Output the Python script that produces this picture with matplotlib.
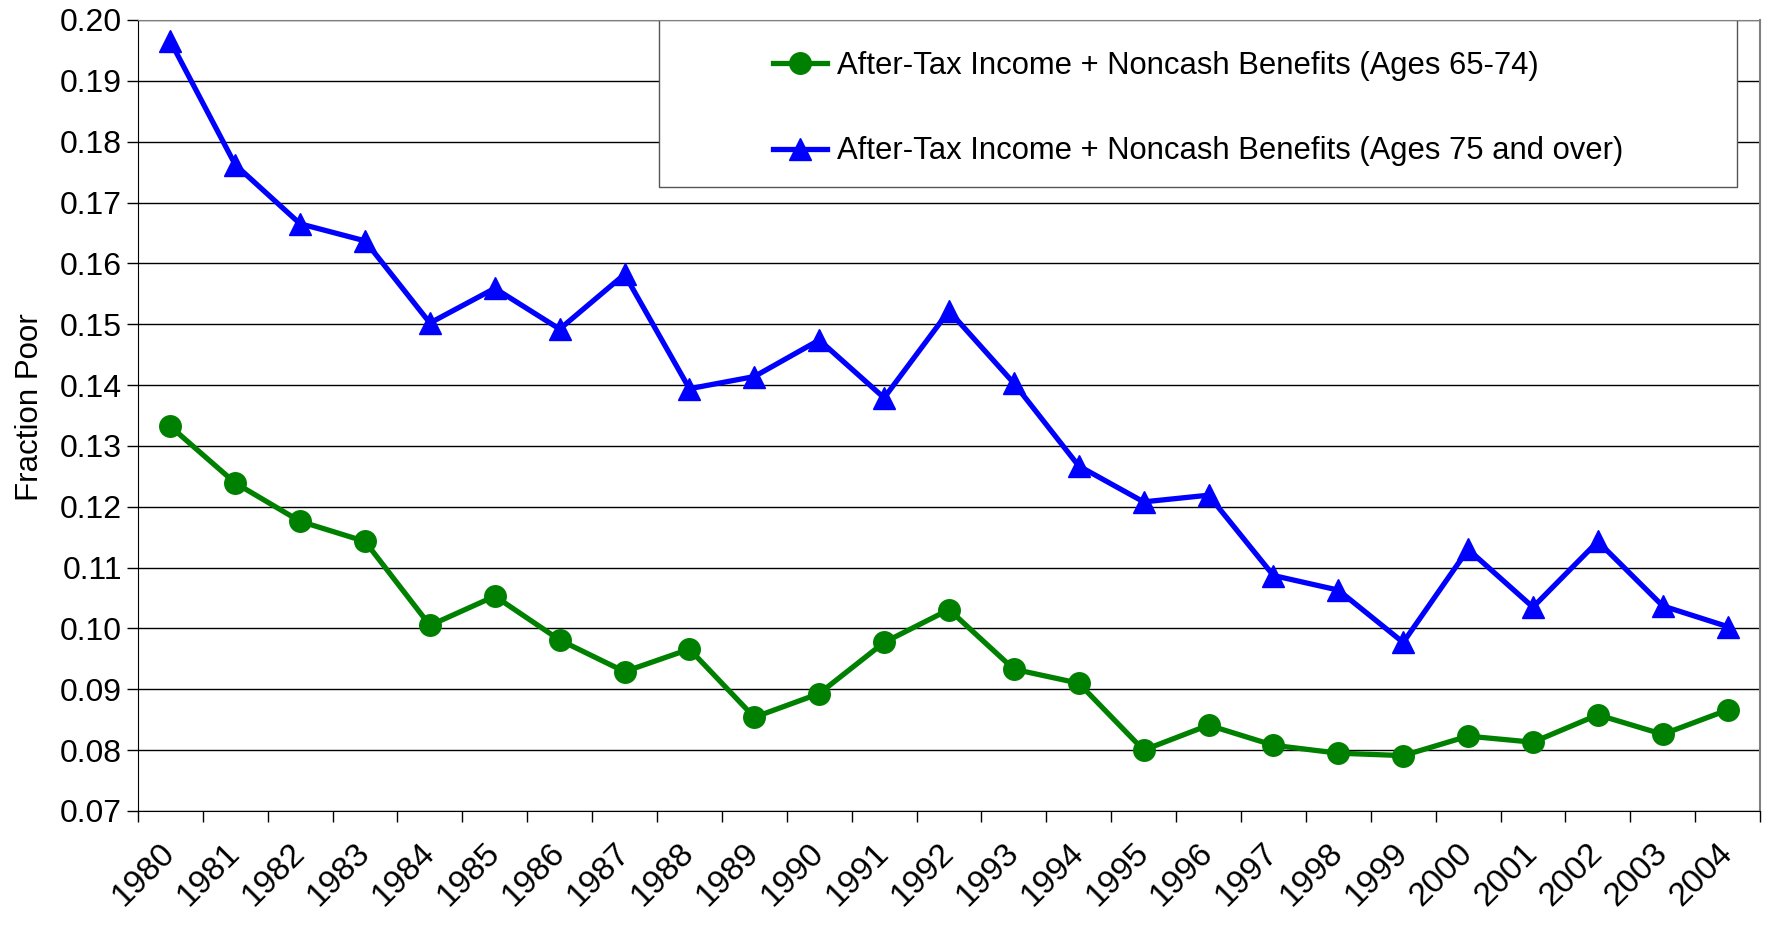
import numpy as np
import matplotlib.pyplot as plt
from matplotlib.patches import Rectangle

plt.rcParams['font.family'] = ['Liberation Sans', 'DejaVu Sans']

years = [str(y) for y in range(1980, 2005)]

# fraction poor, ages 65-74
poor_65_74 = [0.1332, 0.1239, 0.1176, 0.1143, 0.1005, 0.1053, 0.0981, 0.0929,
              0.0966, 0.0854, 0.0893, 0.0977, 0.1031, 0.0933, 0.0910, 0.0800,
              0.0841, 0.0808, 0.0795, 0.0791, 0.0823, 0.0813, 0.0858, 0.0826,
              0.0866]

# fraction poor, ages 75 and over
poor_75_over = [0.1965, 0.1762, 0.1665, 0.1637, 0.1502, 0.1559, 0.1492, 0.1582,
                0.1394, 0.1414, 0.1474, 0.1379, 0.1522, 0.1403, 0.1267, 0.1208,
                0.1219, 0.1087, 0.1063, 0.0977, 0.1130, 0.1035, 0.1143, 0.1037,
                0.1003]

label_65_74 = 'After-Tax Income + Noncash Benefits (Ages 65-74)'
label_75_over = 'After-Tax Income + Noncash Benefits (Ages 75 and over)'

fig = plt.figure(figsize=(17.73, 9.43), dpi=100)
ax = fig.add_axes([0.0778, 0.14, 0.9149, 0.8388])

x = np.arange(len(years))
ax.plot(x, poor_65_74, color='#008000', lw=3.8, marker='o', ms=15.5,
        label=label_65_74, zorder=3, clip_on=False)
ax.plot(x, poor_75_over, color='#0000FF', lw=3.8, marker='^', ms=16.5,
        label=label_75_over, zorder=3, clip_on=False)

ax.set_xlim(-0.5, len(years) - 0.5)
ax.set_ylim(0.07, 0.20)
ax.set_yticks(np.arange(0.07, 0.2001, 0.01))
ax.yaxis.set_major_formatter(plt.FuncFormatter(lambda v, p: f'{v:.2f}'))
ax.tick_params(axis='y', labelsize=23, length=8, width=1, direction='out')

# ticks on category boundaries, labels at centres
ax.set_xticks(np.arange(-0.5, len(years), 1.0))
ax.set_xticklabels([])
ax.tick_params(axis='x', which='major', length=8, width=1, direction='out')
ax.set_xticks(x, minor=True)
ax.set_xticklabels(years, minor=True, rotation=45, ha='right', va='center',
                   rotation_mode='anchor', fontsize=24)
ax.tick_params(axis='x', which='minor', length=0, pad=27)

ax.set_axisbelow(True)
ax.grid(axis='y', color='black', lw=1)
ax.spines['top'].set_color('#808080')
ax.spines['right'].set_color('#808080')
ax.spines['right'].set_linewidth(1.5)

ax.set_ylabel('Fraction Poor', fontsize=22.5)
ax.yaxis.set_label_coords(-0.057, 0.51)

# legend box like Excel
ax.add_patch(Rectangle((0.321, 0.789), 0.665, 0.211, transform=ax.transAxes,
                       facecolor='white', edgecolor='#555555', lw=1, zorder=1.5))
ax.legend(loc='center', bbox_to_anchor=(0.6535, 0.888), frameon=False,
          fontsize=22.3, handlelength=1.75, handletextpad=0.3, labelspacing=1.8)

plt.savefig('out.png', dpi=100)
